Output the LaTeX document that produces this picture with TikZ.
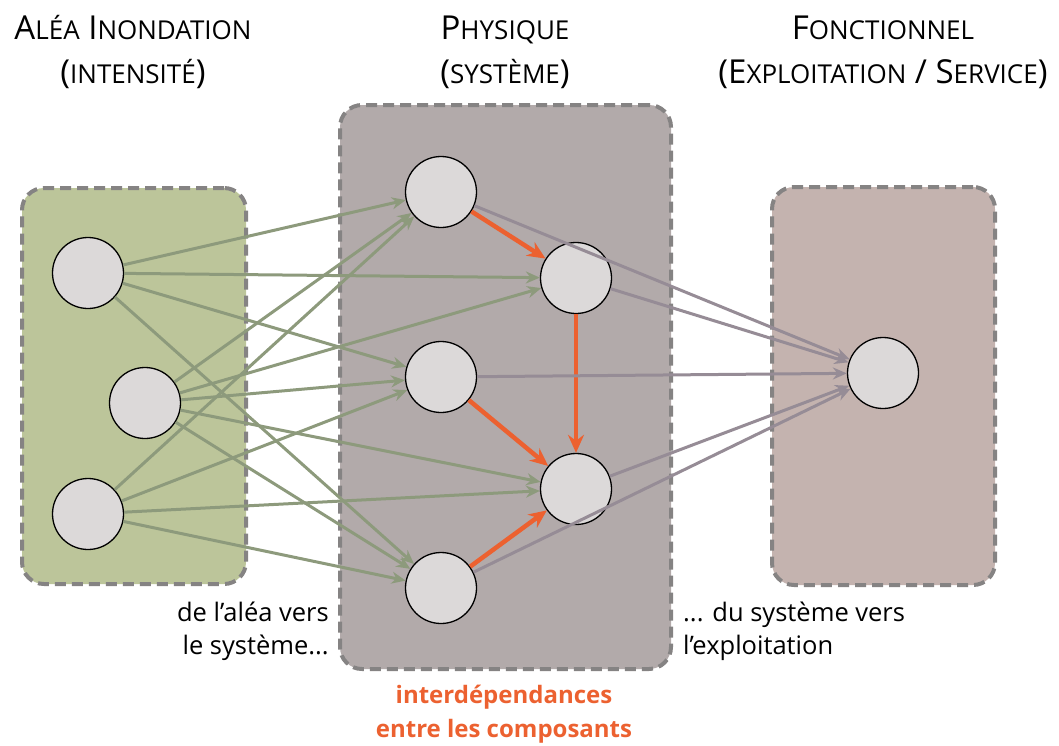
\documentclass[tikz,border=0pt]{standalone}
\usepackage{fontspec}
\setmainfont{Open Sans}
\usetikzlibrary{arrows.meta}

\definecolor{fondvert}{HTML}{BCC59A}
\definecolor{fondgris}{HTML}{B2AAAA}
\definecolor{fondbrun}{HTML}{C4B3AF}
\definecolor{bordgris}{HTML}{858383}
\definecolor{noeudgris}{HTML}{DCD9D9}
\definecolor{lienvert}{HTML}{8D9A7C}
\definecolor{lienmauve}{HTML}{968C96}
\definecolor{orangevif}{HTML}{EC6130}

% petites capitales faites a la main
\newcommand\pcap[1]{{\fontsize{26}{30}\selectfont #1}}

\begin{document}
\begin{tikzpicture}[x=1pt, y=-1pt,
    zone/.style={rectangle, rounded corners=22pt, draw=bordgris, line width=4pt, dash pattern=on 11pt off 6pt},
    composant/.style={circle, draw=black, line width=1.3pt, fill=noeudgris, minimum size=71pt, inner sep=0pt},
    titre/.style={anchor=base, inner sep=0pt, font=\fontsize{33}{36}\selectfont},
    legende/.style={anchor=base, inner sep=0pt, font=\fontsize{25.5}{30}\selectfont},
    versaleas/.style={-{Stealth[length=14pt, width=12pt]}, line width=3pt, draw=lienvert},
    versservice/.style={-{Stealth[length=14pt, width=12pt]}, line width=3pt, draw=lienmauve},
    interdep/.style={-{Stealth[length=18pt, width=16pt]}, line width=4.5pt, draw=orangevif}
]
\useasboundingbox (0,0) rectangle (1059,745);

% titres des colonnes
\node[titre] (titrealea) at (133,39) {A\pcap{LÉA} I\pcap{NONDATION}};
\node[titre] (soustitrealea) at (133,83) {(\pcap{INTENSITÉ})};
\node[titre] (titrephys) at (505,39) {P\pcap{HYSIQUE}};
\node[titre] (soustitrephys) at (505,83) {(\pcap{SYSTÈME})};
\node[titre] (titrefonc) at (883,39) {F\pcap{ONCTIONNEL}};
\node[titre] (soustitrefonc) at (883,83) {(E\pcap{XPLOITATION} / S\pcap{ERVICE})};

% zones
\node[zone, fill=fondvert, minimum width=224pt, minimum height=396pt] (zonealea) at (134,386) {};
\node[zone, fill=fondgris, minimum width=331pt, minimum height=564pt] (zonephys) at (505.5,387) {};
\node[zone, fill=fondbrun, minimum width=223pt, minimum height=398pt] (zonefonc) at (883.5,386) {};

% composants
\node[composant] (alea1) at (88,273) {};
\node[composant] (alea2) at (145,403) {};
\node[composant] (alea3) at (88,514) {};

\node[composant] (phys1) at (441,192) {};
\node[composant] (phys2) at (576,278) {};
\node[composant] (phys3) at (441,377) {};
\node[composant] (phys4) at (576,489) {};
\node[composant] (phys5) at (441,588) {};

\node[composant] (service) at (883,373) {};

% de l'alea vers le systeme
\draw[versaleas] (alea1) -- (phys1);
\draw[versaleas] (alea1) -- (phys2);
\draw[versaleas] (alea1) -- (phys3);
\draw[versaleas] (alea1) -- (phys5);
\draw[versaleas] (alea2) -- (phys1);
\draw[versaleas] (alea2) -- (phys2);
\draw[versaleas] (alea2) -- (phys3);
\draw[versaleas] (alea2) -- (phys4);
\draw[versaleas] (alea2) -- (phys5);
\draw[versaleas] (alea3) -- (phys1);
\draw[versaleas] (alea3) -- (phys3);
\draw[versaleas] (alea3) -- (phys4);
\draw[versaleas] (alea3) -- (phys5);

% interdependances
\draw[interdep] (phys1) -- (phys2);
\draw[interdep] (phys2) -- (phys4);
\draw[interdep] (phys3) -- (phys4);
\draw[interdep] (phys5) -- (phys4);

% du systeme vers l'exploitation
\draw[versservice] (phys1) -- (service);
\draw[versservice] (phys2) -- (service);
\draw[versservice] (phys3) -- (service);
\draw[versservice] (phys4) -- (service);
\draw[versservice] (phys5) -- (service);

% legendes
\node[legende, anchor=base east] (legalea1) at (329,621) {de l’aléa vers};
\node[legende, anchor=base east] (legalea2) at (329,654) {le système...};
\node[legende, anchor=base west] (legfonc1) at (683,621) {... du système vers};
\node[legende, anchor=base west] (legfonc2) at (683,654) {l’exploitation};
\node[legende, text=orangevif, font=\fontsize{24}{30}\selectfont\bfseries] (leginter1) at (504,703) {interdépendances};
\node[legende, text=orangevif, font=\fontsize{24}{30}\selectfont\bfseries] (leginter2) at (504,737) {entre les composants};
\end{tikzpicture}
\end{document}
